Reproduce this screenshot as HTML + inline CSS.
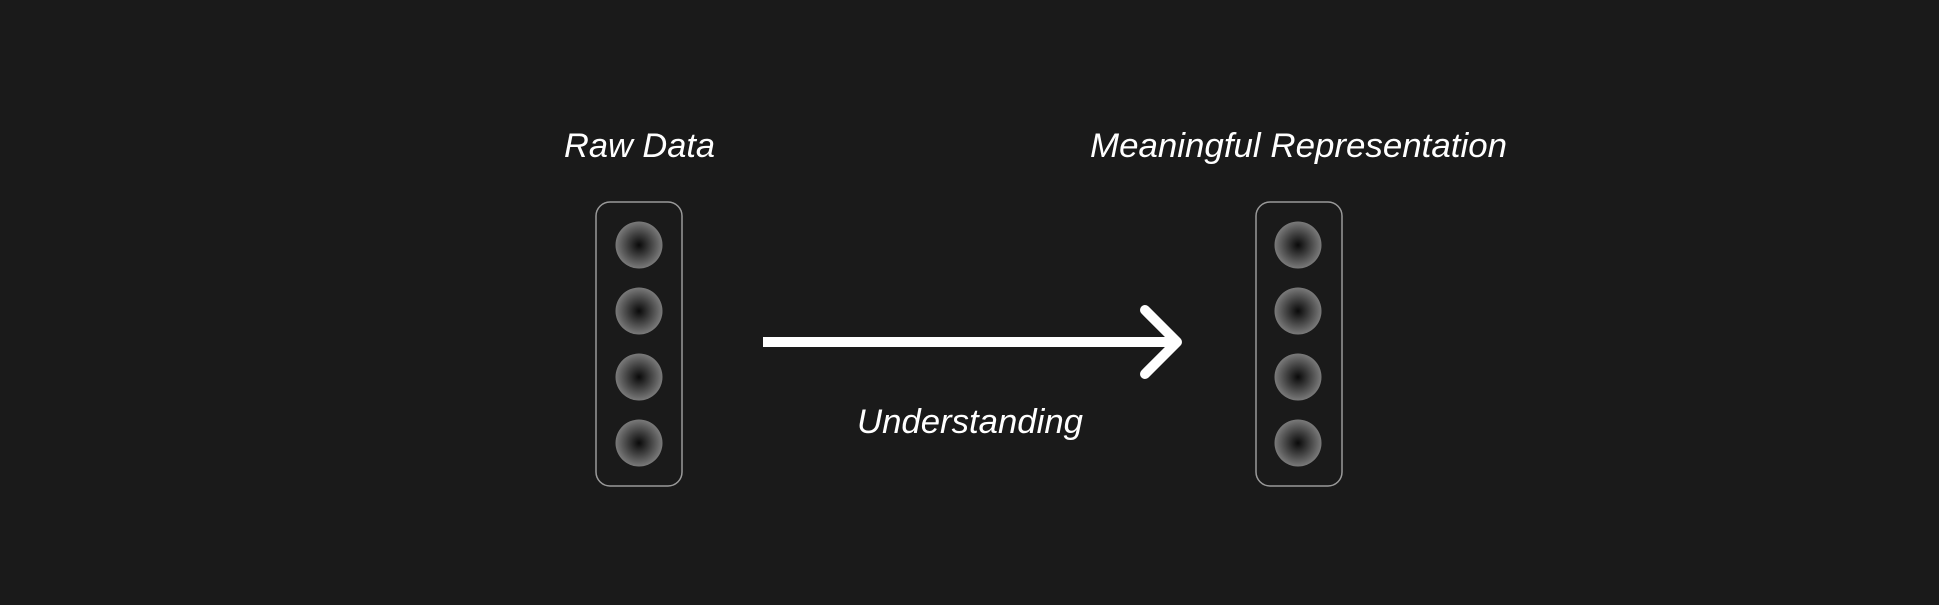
<!DOCTYPE html>
<html><head><meta charset="utf-8"><style>
html,body{margin:0;padding:0;background:#1a1a1a;}
svg{display:block}
text{font-family:"Liberation Sans",sans-serif;font-style:italic;fill:#fff;}
</style></head><body>
<svg width="1939" height="605" viewBox="0 0 1939 605" xmlns="http://www.w3.org/2000/svg">
<defs>
<radialGradient id="g" cx="50%" cy="50%" r="50%">
<stop offset="0" stop-color="#0a0a0a"/>
<stop offset="1" stop-color="#7a7a7a"/>
</radialGradient>
</defs>
<rect width="1939" height="605" fill="#1a1a1a"/>
<text x="564" y="157" font-size="34" textLength="151" lengthAdjust="spacingAndGlyphs">Raw Data</text>
<text x="1090" y="157" font-size="34" textLength="417" lengthAdjust="spacingAndGlyphs">Meaningful Representation</text>
<text x="857" y="433" font-size="34" textLength="226" lengthAdjust="spacingAndGlyphs">Understanding</text>
<rect x="596" y="202" width="86" height="284" rx="14" fill="none" stroke="#9a9a9a" stroke-width="1.5"/>
<rect x="1256" y="202" width="86" height="284" rx="14" fill="none" stroke="#9a9a9a" stroke-width="1.5"/>
<g fill="url(#g)">
<circle cx="639" cy="245" r="23.5"/><circle cx="639" cy="311" r="23.5"/><circle cx="639" cy="377" r="23.5"/><circle cx="639" cy="443" r="23.5"/>
<circle cx="1298" cy="245" r="23.5"/><circle cx="1298" cy="311" r="23.5"/><circle cx="1298" cy="377" r="23.5"/><circle cx="1298" cy="443" r="23.5"/>
</g>
<line x1="763" y1="342" x2="1175" y2="342" stroke="#fff" stroke-width="10"/>
<polyline points="1145,310 1177,342 1145,374" fill="none" stroke="#fff" stroke-width="10" stroke-linecap="round" stroke-linejoin="round"/>
</svg>
</body></html>
